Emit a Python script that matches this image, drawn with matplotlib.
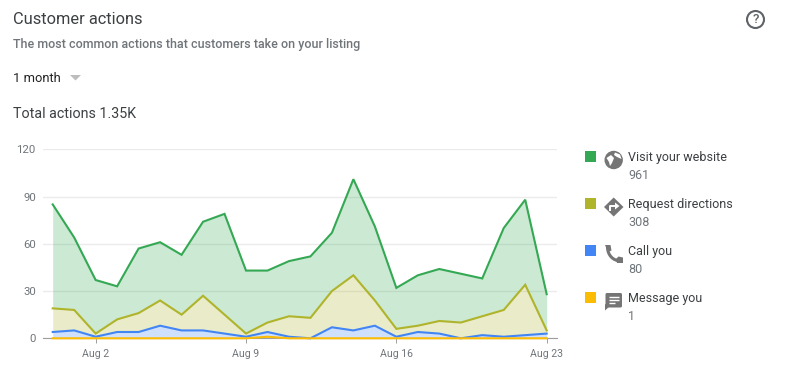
import matplotlib
matplotlib.use("Agg")
import matplotlib.pyplot as plt
import numpy as np
from matplotlib.patches import Circle, FancyBboxPatch, Polygon, PathPatch, Rectangle
from matplotlib.path import Path

plt.rcParams["font.family"] = ["Roboto", "DejaVu Sans"]

W, H = 787, 368

# day number: 0 = Jul 31, then 1..23 = Aug 1..Aug 23
days = list(range(24))
website = [66, 46, 34, 21, 41, 37, 38, 47, 64, 40, 33, 35, 39, 37, 61, 47, 26, 32, 33, 31, 24, 52, 54, 23]
directions = [15, 13, 2, 8, 12, 16, 10, 22, 12, 2, 6, 13, 13, 23, 35, 16, 5, 4, 8, 10, 12, 17, 32, 2]
calls = [4, 5, 1, 4, 4, 8, 5, 5, 3, 1, 3, 1, 0, 7, 5, 8, 1, 4, 3, 0, 2, 1, 2, 3]
messages = [0, 0, 0, 0, 0, 0, 0, 0, 0, 0, 1, 0, 0, 0, 0, 0, 0, 0, 0, 0, 0, 0, 0, 0]

names = ["Visit your website", "Request directions", "Call you", "Message you"]
colors = ["#34a853", "#afb42b", "#4285f4", "#fbbc04"]
y_ticks = [0, 30, 60, 90, 120]
x_ticks = [2, 9, 16, 23]
x_labels = ["Aug 2", "Aug 9", "Aug 16", "Aug 23"]

DARK = "#3c4043"
GREY = "#70757a"
ICON = "#757575"


def box(left, top, right, bottom):
    return [left / W, 1 - bottom / H, (right - left) / W, (bottom - top) / H]


fig = plt.figure(figsize=(W / 100, H / 100), dpi=100)

# chart
ax = fig.add_axes(box(42.7, 149.3, 556.7, 338.3))
ax.set_xlim(-0.466, 23.466)
ax.set_ylim(0, 120)

layers = [website, directions, calls, messages]
tops = np.cumsum(np.array(layers[::-1]), axis=0)[::-1]
for i, name in enumerate(names):
    lower = tops[i + 1] if i < 3 else np.zeros(len(days))
    ax.fill_between(days, lower, tops[i], color=colors[i], alpha=0.25, lw=0, zorder=2)
for i, name in enumerate(names):
    ax.plot(days, tops[i], color=colors[i], lw=1.5, zorder=3 + i, clip_on=False,
            solid_joinstyle="miter")

ax.set_yticks(y_ticks)
ax.set_xticks(x_ticks)
ax.set_xticklabels(x_labels)
ax.grid(axis="y", color="#ebebeb", lw=1, zorder=0)
ax.set_axisbelow(True)
for s in ["top", "left", "right"]:
    ax.spines[s].set_visible(False)
ax.spines["bottom"].set_color("#9e9e9e")
ax.spines["bottom"].set_linewidth(0.8)
ax.tick_params(axis="y", length=0, pad=5, labelsize=8.2, labelcolor=GREY)
ax.tick_params(axis="x", length=3.5, width=0.7, color="#9e9e9e", pad=4.5, labelsize=7.6, labelcolor=GREY)

# page furniture, drawn in pixel coordinates
ov = fig.add_axes([0, 0, 1, 1], facecolor="none")
ov.set_xlim(0, W)
ov.set_ylim(H, 0)
ov.axis("off")

ov.text(13, 19.5, "Customer actions", fontsize=11.8, color=DARK, va="center")
ov.text(13, 44.5, "The most common actions that customers take on your listing",
        fontsize=9.0, color=GREY, va="center", fontweight="medium")
ov.text(13, 78, "1 month", fontsize=9.3, color="#202124", va="center")
ov.add_patch(Polygon([(70, 75), (81, 75), (75.5, 80.5)], color="#bdbdbd", lw=0))
ov.text(13, 113.8, "Total actions 1.35K", fontsize=10.3, color=DARK, va="center")

# help icon
ov.add_patch(Circle((755.5, 19.5), 8.5, fill=False, ec="#5f6368", lw=1.5))
ov.text(755.5, 19.7, "?", fontsize=9.5, color="#5f6368", ha="center", va="center", fontweight="medium")

# legend
rows = [157, 204, 251, 298]
for i, name in enumerate(names):
    y = rows[i]
    ov.add_patch(Rectangle((585, y - 6), 11, 11, color=colors[i], lw=0))
    ov.text(628, y + 0.7, name, fontsize=9, color=DARK, va="center")
    ov.text(628, y + 18.5, str(sum(layers[i])), fontsize=9, color=GREY, va="center")

# globe
ov.add_patch(Circle((613.7, 160), 9.2, color=ICON, lw=0))
ov.add_patch(Polygon([(606.5, 158), (611, 155), (614, 158), (612, 163), (610, 166), (609, 162)],
                     color="white", lw=0))
ov.add_patch(Polygon([(615, 152.5), (620, 154.5), (621.5, 159), (617, 157), (614, 155)],
                     color="white", lw=0))

# directions
ov.add_patch(Polygon([(613.7, 197.5), (623.5, 207), (613.7, 216.5), (604, 207)], color=ICON, lw=0))
ov.plot([610, 610, 616], [211, 206, 206], color="white", lw=1.4, solid_capstyle="butt")
ov.add_patch(Polygon([(615, 202.5), (619.5, 206), (615, 209.5)], color="white", lw=0))

# phone
phone = Path([(607.5, 247), (607.5, 255), (613, 261), (621, 261)],
             [Path.MOVETO, Path.CURVE4, Path.CURVE4, Path.CURVE4])
ov.add_patch(PathPatch(phone, fill=False, ec=ICON, lw=2.2, capstyle="round"))
ov.add_patch(Polygon([(605, 245), (610.5, 245), (611.5, 250.5), (608, 252)], color=ICON, lw=0))
ov.add_patch(Polygon([(616, 259), (618.5, 256.5), (623, 257.5), (623, 263), (617, 263)], color=ICON, lw=0))

# message
ov.add_patch(FancyBboxPatch((605.5, 293), 16.5, 14.5, boxstyle="round,pad=0,rounding_size=1.5",
                            color=ICON, lw=0))
ov.add_patch(Polygon([(605, 304), (605, 310.5), (610, 306)], color=ICON, lw=0))
for ly, x2 in [(296.5, 619), (299.5, 619), (302.5, 615)]:
    ov.plot([608.5, x2], [ly, ly], color="white", lw=1, solid_capstyle="butt")

fig.savefig("out.png", dpi=100)
